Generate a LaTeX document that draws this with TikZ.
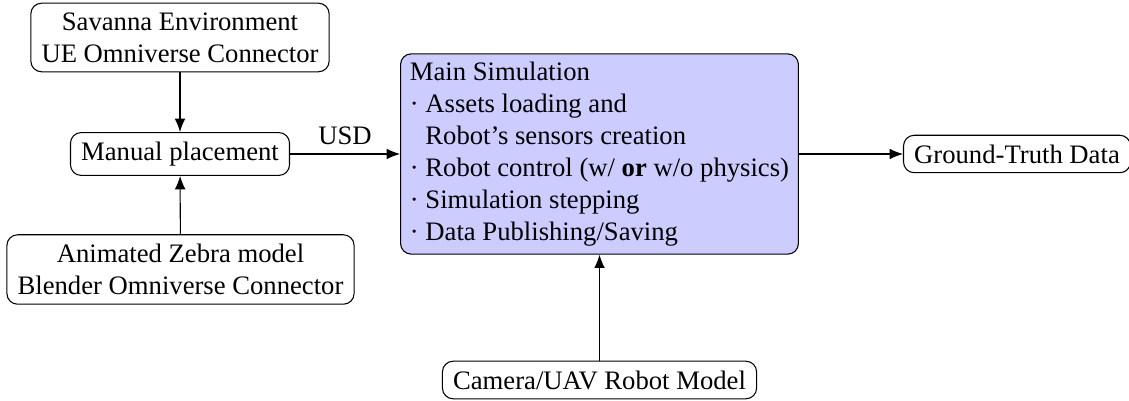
\documentclass[tikz,border=0pt]{standalone}
\usepackage{fontspec}
\setmainfont{Liberation Serif}
\usetikzlibrary{arrows.meta}
\begin{document}
\begin{tikzpicture}[x=0.375pt,y=-0.375pt,>={Latex[length=5pt,width=4pt]},font=\fontsize{10}{12}\selectfont,line join=round]
  \tikzset{
    blk/.style={draw,rounded corners=4pt,align=center,inner xsep=4pt,inner ysep=3.5pt},
    mainblk/.style={blk,fill=blue!20,align=left,inner xsep=3.5pt,inner ysep=3pt}
  }
  \useasboundingbox (0,0) rectangle (1129,401);
  % inputs on the left
  \node[blk] (savanna) at (180,37.5) {Savanna Environment\\UE Omniverse Connector};
  \node[blk] (manual) at (180,154) {Manual placement};
  \node[blk] (zebra) at (180.5,269.5) {Animated Zebra model\\Blender Omniverse Connector};
  % simulation block and output
  \node[mainblk] (main) at (599.5,154) {Main Simulation\\
    \textperiodcentered\ Assets loading and\\
    \phantom{\textperiodcentered\ }Robot's sensors creation\\
    \textperiodcentered\ Robot control (w/ \textbf{or} w/o physics)\\
    \textperiodcentered\ Simulation stepping\\
    \textperiodcentered\ Data Publishing/Saving};
  \node[blk] (gt) at (1017,154) {Ground-Truth Data};
  \node[blk] (camera) at (599.5,380) {Camera/UAV Robot Model};
  \draw[->] (savanna) -- (manual);
  \draw[->] (zebra) -- (manual);
  \draw[->] (manual) -- node[above]{USD} (main);
  \draw[->] (main) -- (gt);
  \draw[->] (camera) -- (main);
\end{tikzpicture}
\end{document}
